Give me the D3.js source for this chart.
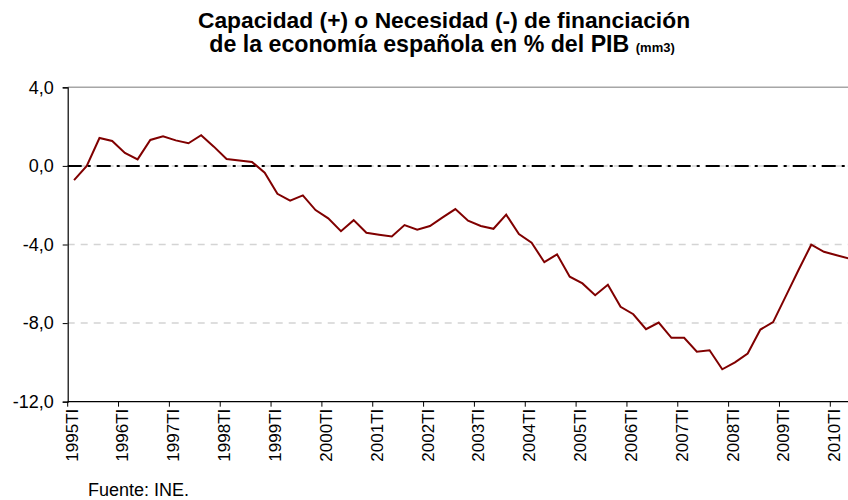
<!DOCTYPE html>
<html>
<head>
<meta charset="utf-8">
<script src="https://cdn.jsdelivr.net/npm/d3@7"></script>
<style>
  html, body { margin: 0; padding: 0; background: #fff; }
  svg { display: block; }
  text { font-family: "Liberation Sans", Arial, sans-serif; }
</style>
</head>
<body>
<svg id="chart" width="848" height="500"></svg>
<script>
// ---- data ----
const years = [1995, 1996, 1997, 1998, 1999, 2000, 2001, 2002, 2003, 2004, 2005, 2006, 2007, 2008, 2009, 2010];
const quarterNames = ["TI", "TII", "TIII", "TIV"];
const tickLabels = ["1995TI", "1996TI", "1997TI", "1998TI", "1999TI", "2000TI", "2001TI", "2002TI",
                    "2003TI", "2004TI", "2005TI", "2006TI", "2007TI", "2008TI", "2009TI", "2010TI"];
const values = [
  -0.72, 0.00, 1.42, 1.27,   // 1995
   0.66, 0.33, 1.32, 1.51,   // 1996
   1.30, 1.15, 1.56, 0.98,   // 1997
   0.35, 0.27, 0.20, -0.35,  // 1998
  -1.42, -1.77, -1.50, -2.25, // 1999
  -2.67, -3.32, -2.76, -3.40, // 2000
  -3.50, -3.59, -3.01, -3.25, // 2001
  -3.06, -2.62, -2.20, -2.79, // 2002
  -3.06, -3.20, -2.48, -3.47, // 2003
  -3.91, -4.90, -4.50, -5.64, // 2004
  -5.98, -6.58, -6.05, -7.17, // 2005
  -7.55, -8.31, -7.97, -8.75, // 2006
  -8.75, -9.46, -9.38, -10.35, // 2007
  -10.00, -9.55, -8.33, -7.95, // 2008
  -6.63, -5.30, -4.01, -4.37, // 2009
  -4.55, -4.72                // 2010
];
const yTicks = [4, 0, -4, -8, -12];
const gridValues = [0, -4, -8];

const categories = [];
years.forEach(y => quarterNames.forEach(q => categories.push(y + q)));
const cats = categories.slice(0, values.length);

// ---- layout ----
const svg = d3.select("#chart");
const left = 67.7, plotTop = 87.3, plotBottom = 401.7;
const step = 12.71;
const right = left + step * cats.length;

const x = d3.scaleBand().domain(cats).range([left, right]).padding(0);
const y = d3.scaleLinear().domain([-12, 4]).range([plotBottom, plotTop]);
const fmt = v => d3.format(".1f")(v).replace(".", ",").replace("−", "-");

// title
const title = svg.append("text").attr("text-anchor", "middle").attr("font-weight", "bold").attr("fill", "#000");
title.append("tspan").attr("x", 444).attr("y", 28).attr("font-size", 22.8)
  .text("Capacidad (+) o Necesidad (-) de financiación");
const t2 = svg.append("text").attr("text-anchor", "middle").attr("font-weight", "bold").attr("fill", "#000")
  .attr("x", 442).attr("y", 52);
t2.append("tspan").attr("font-size", 23.2).text("de la economía española en % del PIB ");
t2.append("tspan").attr("font-size", 13).text("(mm3)");

// top border
svg.append("line").attr("x1", left).attr("x2", 848).attr("y1", y(4)).attr("y2", y(4))
  .attr("stroke", "#a6a6a6").attr("stroke-width", 1.5);

// gridlines
svg.append("g").selectAll("line").data(gridValues).join("line")
  .attr("x1", left).attr("x2", 848)
  .attr("y1", d => y(d)).attr("y2", d => y(d))
  .attr("stroke", "#d4d4d4").attr("stroke-width", 1.5)
  .attr("stroke-dasharray", "7,6");

// zero dash-dot line
svg.append("line").attr("x1", left).attr("x2", 848).attr("y1", y(0)).attr("y2", y(0))
  .attr("stroke", "#000").attr("stroke-width", 2)
  .attr("stroke-dasharray", "14,6,3,6");

// y axis
const yAxis = svg.append("g").attr("transform", `translate(${left},0)`)
  .call(d3.axisLeft(y).tickValues(yTicks).tickFormat(fmt).tickSize(5).tickPadding(9));
yAxis.select(".domain").attr("stroke", "#000").attr("stroke-width", 1.2);
yAxis.selectAll(".tick line").attr("stroke", "#000");
yAxis.selectAll(".tick text").attr("font-size", 18).attr("font-family", "Liberation Sans, Arial, sans-serif").attr("fill", "#000");

// x axis (ticks at start of each year's first quarter)
const xAxisG = svg.append("g").attr("transform", `translate(0,${plotBottom})`);
xAxisG.append("line").attr("x1", left).attr("x2", 848).attr("y1", 0).attr("y2", 0)
  .attr("stroke", "#000").attr("stroke-width", 1.2);
const tickG = xAxisG.selectAll("g.xt").data(tickLabels).join("g").attr("class", "xt")
  .attr("transform", d => `translate(${x(d)},0)`);
tickG.append("line").attr("y1", 0).attr("y2", 5).attr("stroke", "#000");
tickG.append("text")
  .attr("transform", "translate(4,7) rotate(-90)")
  .attr("text-anchor", "end").attr("dy", "0.35em")
  .attr("font-size", 17).attr("fill", "#000")
  .text(d => d);

// data line
const line = d3.line()
  .x((d, i) => x(cats[i]) + x.bandwidth() / 2)
  .y(d => y(d));
svg.append("path").datum(values)
  .attr("d", line)
  .attr("fill", "none").attr("stroke", "#800000").attr("stroke-width", 2)
  .attr("stroke-linejoin", "miter");

// source
svg.append("text").attr("x", 88).attr("y", 496).attr("font-size", 18).attr("fill", "#000")
  .text("Fuente: INE.");
</script>
</body>
</html>
